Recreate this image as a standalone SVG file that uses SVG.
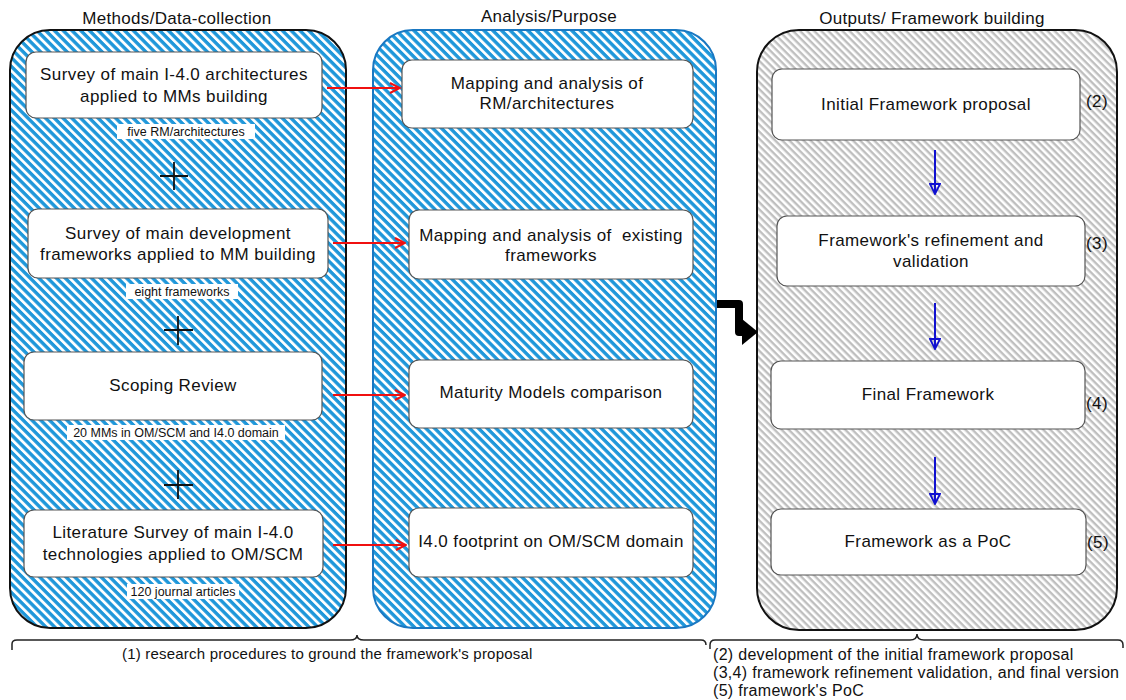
<svg xmlns="http://www.w3.org/2000/svg" width="1126" height="700" viewBox="0 0 1126 700">
<defs>
<pattern id="hBlue" patternUnits="userSpaceOnUse" width="12" height="6.2" patternTransform="rotate(45)">
<rect width="12" height="6.2" fill="#ffffff"/>
<rect width="12" height="3.4" fill="#1f97da"/>
</pattern>
<pattern id="hGray" patternUnits="userSpaceOnUse" width="12" height="5" patternTransform="rotate(45)">
<rect width="12" height="5" fill="#ffffff"/>
<rect width="12" height="2.4" fill="#bfbfbf"/>
</pattern>
<marker id="aRed" viewBox="0 0 12 12" refX="11" refY="6" markerWidth="12" markerHeight="12" markerUnits="userSpaceOnUse" orient="auto">
<path d="M1,1 L11,6 L1,11" fill="none" stroke="#f01010" stroke-width="2"/>
</marker>
<marker id="aBlue" viewBox="0 0 12 12" refX="6" refY="11" markerWidth="12" markerHeight="12" markerUnits="userSpaceOnUse" orient="0">
<path d="M1,1 L6,11 L11,1 Z" fill="none" stroke="#1010d0" stroke-width="1.8"/>
</marker>
</defs>
<style>
.t{font-family:"Liberation Sans",Arial,sans-serif;fill:#111;text-anchor:middle;white-space:pre}
.bx{font-size:17px;letter-spacing:0.4px}
.hd{font-size:17px;letter-spacing:0.3px}
.sm{font-size:12.5px}
.nb{font-size:15px;text-anchor:start;letter-spacing:0.2px}
.nr{font-size:16px;text-anchor:start;letter-spacing:0.3px}
.node{fill:#ffffff;stroke:#555;stroke-width:1.2}
.red{stroke:#f01010;stroke-width:2;fill:none;marker-end:url(#aRed)}
.blu{stroke:#1010d0;stroke-width:2;fill:none;marker-end:url(#aBlue)}
.lbg{fill:#ffffff}
.brace{fill:none;stroke:#222;stroke-width:1.5}
</style>
<rect width="1126" height="700" fill="#ffffff"/>

<g id="container-methods">
<rect x="10" y="30" width="336" height="598" rx="40" fill="url(#hBlue)" stroke="#111" stroke-width="2"/>
<text class="t hd" x="177" y="24">Methods/Data-collection</text>
</g>
<g id="container-analysis">
<rect x="373" y="30" width="343" height="598" rx="40" fill="url(#hBlue)" stroke="#1a78c2" stroke-width="2"/>
<text class="t hd" x="549" y="22">Analysis/Purpose</text>
</g>
<g id="container-outputs">
<rect x="757" y="30" width="360" height="600" rx="42" fill="url(#hGray)" stroke="#111" stroke-width="2"/>
<text class="t hd" x="932" y="24">Outputs/ Framework building</text>
</g>

<g id="n-survey-arch">
<rect class="node" x="26" y="52" width="296" height="66" rx="10"/>
<text class="t bx" x="174" y="80">Survey of main I-4.0 architectures</text>
<text class="t bx" x="174" y="102">applied to MMs building</text>
</g>
<g id="lbl-five">
<rect class="lbg" x="117" y="124" width="138" height="15"/>
<text class="t sm" x="186" y="136">five RM/architectures</text>
</g>
<g id="plus-1"><path d="M160,176 H188 M174,162 V190" stroke="#111" stroke-width="1.8"/></g>

<g id="n-survey-frameworks">
<rect class="node" x="28" y="209" width="300" height="69" rx="10"/>
<text class="t bx" x="178" y="239">Survey of main development</text>
<text class="t bx" x="178" y="260">frameworks applied to MM building</text>
</g>
<g id="lbl-eight">
<rect class="lbg" x="126" y="284" width="112" height="15"/>
<text class="t sm" x="182" y="296">eight frameworks</text>
</g>
<g id="plus-2"><path d="M164,330 H193 M178,316 V345" stroke="#111" stroke-width="1.8"/></g>

<g id="n-scoping">
<rect class="node" x="24" y="352" width="298" height="68" rx="10"/>
<text class="t bx" x="173" y="391">Scoping Review</text>
</g>
<g id="lbl-20mms">
<rect class="lbg" x="67" y="425" width="218" height="15"/>
<text class="t sm" x="176" y="437">20 MMs in OM/SCM and I4.0 domain</text>
</g>
<g id="plus-3"><path d="M164,485 H193 M178,470 V499" stroke="#111" stroke-width="1.8"/></g>

<g id="n-lit-survey">
<rect class="node" x="24" y="510" width="299" height="67" rx="10"/>
<text class="t bx" x="173" y="538">Literature Survey of main I-4.0</text>
<text class="t bx" x="173" y="560">technologies applied to OM/SCM</text>
</g>
<g id="lbl-120">
<rect class="lbg" x="127" y="584" width="112" height="15"/>
<text class="t sm" x="183" y="596">120 journal articles</text>
</g>

<g id="n-map-rm">
<rect class="node" x="402" y="60" width="291" height="68" rx="10"/>
<text class="t bx" x="547" y="89">Mapping and analysis of</text>
<text class="t bx" x="547" y="109">RM/architectures</text>
</g>
<g id="n-map-fw">
<rect class="node" x="409" y="210" width="284" height="69" rx="10"/>
<text class="t bx" x="551" y="241">Mapping and analysis of  existing</text>
<text class="t bx" x="551" y="261">frameworks</text>
</g>
<g id="n-mm-compare">
<rect class="node" x="409" y="360" width="284" height="68" rx="10"/>
<text class="t bx" x="551" y="398">Maturity Models comparison</text>
</g>
<g id="n-footprint">
<rect class="node" x="409" y="508" width="284" height="69" rx="10"/>
<text class="t bx" x="551" y="547">I4.0 footprint on OM/SCM domain</text>
</g>

<g id="n-initial">
<rect class="node" x="772" y="69" width="308" height="71" rx="10"/>
<text class="t bx" x="926" y="110">Initial Framework proposal</text>
<text class="t bx" x="1097" y="107">(2)</text>
</g>
<g id="n-refine">
<rect class="node" x="777" y="216" width="308" height="70" rx="10"/>
<text class="t bx" x="931" y="246">Framework's refinement and</text>
<text class="t bx" x="931" y="267">validation</text>
<text class="t bx" x="1097" y="249">(3)</text>
</g>
<g id="n-final">
<rect class="node" x="771" y="361" width="314" height="68" rx="10"/>
<text class="t bx" x="928" y="400">Final Framework</text>
<text class="t bx" x="1097" y="409">(4)</text>
</g>
<g id="n-poc">
<rect class="node" x="771" y="509" width="315" height="66" rx="10"/>
<text class="t bx" x="928" y="547">Framework as a PoC</text>
<text class="t bx" x="1098" y="548">(5)</text>
</g>

<g id="connectors">
<path class="red" d="M327,88 L400,88"/>
<path class="red" d="M333,243 L405,243"/>
<path class="red" d="M333,395 L405,395"/>
<path class="red" d="M333,545 L406,545"/>
<path class="blu" d="M935,150 L935,194"/>
<path class="blu" d="M935,303 L935,349"/>
<path class="blu" d="M935,457 L935,504"/>
<path d="M717,304 L739,304 L739,332 L744,332" fill="none" stroke="#000" stroke-width="8" stroke-linejoin="round"/>
<path d="M742,319 L758,332 L742,345 Z" fill="#000"/>
</g>

<g id="brace-left">
<path class="brace" d="M12,650 L12,644 Q12,640 17,640 L350,640 Q357,640 357,635 Q357,640 364,640 L701,640 Q706,640 706,645"/>
<text class="t nb" x="122" y="659">(1) research procedures to ground the framework's proposal</text>
</g>
<g id="brace-right">
<path class="brace" d="M710,649 L710,645 Q710,640 715,640 L910,640 Q917,640 917,634 Q917,640 924,640 L1118,640 Q1123,640 1123,645 L1123,648"/>
<text class="t nr" x="713" y="660">(2) development of the initial framework proposal</text>
<text class="t nr" x="713" y="678">(3,4) framework refinement validation, and final version</text>
<text class="t nr" x="713" y="696">(5) framework's PoC</text>
</g>
</svg>
